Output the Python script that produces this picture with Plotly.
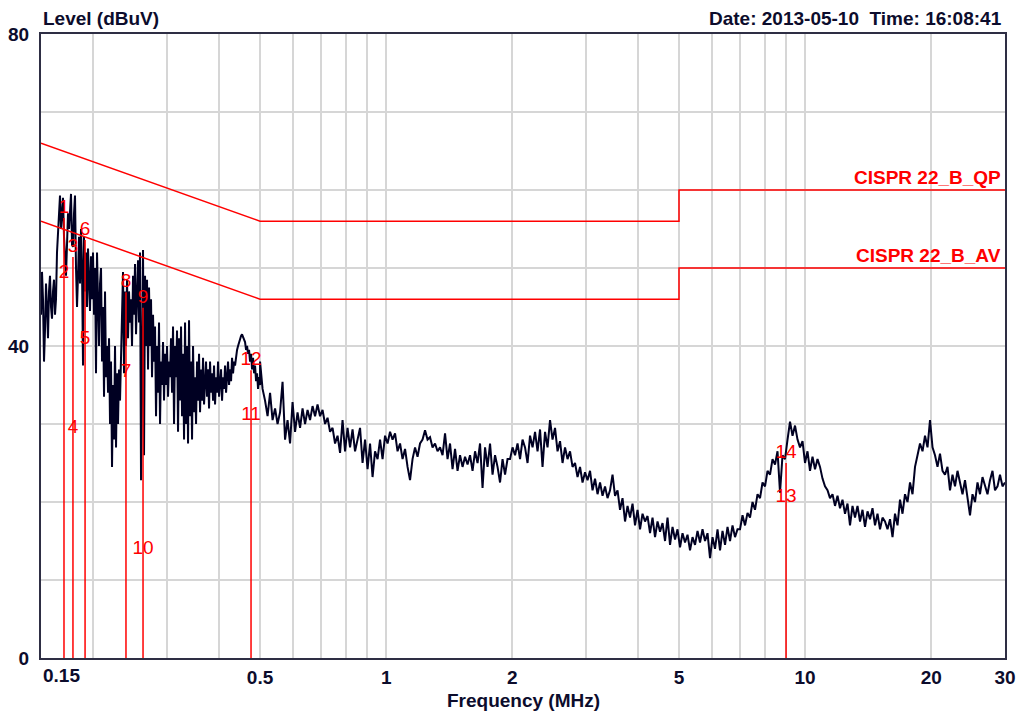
import numpy as np
import plotly.graph_objects as go

# ---------------- data ----------------
# measured trace, segment A: 0.15 - 0.5 MHz (log-spaced sweep points)
level_a = [
    44, 49.5, 46, 38, 42, 48, 45, 41, 47,
    49, 45, 43.5, 47, 48.5, 44, 46, 52,
    55, 58, 59.3, 55, 57, 59,
    54, 50, 49, 53, 57, 55,
    58, 59.5, 53, 52.7, 57, 59.3,
    50, 45, 49, 54,
    48, 55, 50, 37.5, 54, 47, 52,
    45, 52.5, 47, 44.5, 51.5, 46, 52, 44, 50,
    36.5, 52, 44, 40, 48,
    50, 38, 45, 33.5, 47, 36, 40, 34,
    41, 30, 38, 24.5, 35, 28, 40,
    27, 36.5, 30, 37, 33,
    38, 45, 49.5, 36.5, 47, 40,
    48.5, 41, 47, 43, 46, 40, 49,
    44, 50.5, 41.5, 48, 51, 43, 52,
    22.8, 45, 52.3, 26, 49, 40, 48.5,
    37, 47.5, 40, 46, 36, 44, 38, 42.5,
    31, 40, 34, 43, 30, 38, 35, 40.5, 33, 39,
    35, 40, 33.5, 38, 36, 41, 34, 42.5, 30, 40,
    36, 42, 29, 41, 33, 42.5, 31, 39, 28, 43, 30,
    40, 27.5, 43.3, 31, 38, 28, 40, 31.5, 36, 30,
    38, 33, 39, 31.5, 37, 33, 38.5, 32.5, 36,
    38, 33.5, 37, 32, 38, 34, 36.5, 33, 37.5, 32.5, 36, 34, 38, 33.5, 35,
    37, 33, 36, 34.5, 37.5, 34, 36, 38, 35, 37, 35.5, 38.5, 36.5, 38, 37.5, 39, 39.5,
    40, 40.5, 41, 41.3, 41.5, 41.2, 41, 40.5, 39.5, 40, 39, 39.5,
    38, 39, 37, 38.5, 36.5, 37.5, 35.5, 36.5, 34.5, 36, 35,
]
# measured trace, segment B: 0.5 - 30 MHz
level_b = [
    38, 34.5, 33, 31, 34, 30.5, 32, 30, 31.5, 35.4,
    28, 30.5, 27.5, 32.8, 29, 31.5, 29.5, 32, 30, 31.8,
    30.5, 32.3, 31, 32.5, 31, 31.8, 30, 30.8, 29, 29.5,
    27.5, 28.5, 26.3, 30.5, 26.5, 29.5, 27, 29.3, 26.5, 28,
    29.5, 25, 28, 24.2, 27.5, 23.2, 26.5, 25.5, 28, 25.5,
    28.5, 27.5, 29, 28, 28.8, 26.5, 27.5, 25.5, 26.8, 24.5,
    22.8, 25.5, 27, 25.8, 27.5, 28, 29.2, 28, 28.3, 27,
    27.5, 26.5, 27, 26, 28.8, 25.5, 27.5, 24.2, 26.8, 24,
    26, 24.5, 25.8, 24.8, 26, 24, 26.5, 25, 27.5, 21.8,
    27, 24.5, 27.5, 23.5, 26, 24.5, 22.5, 25.5, 23.5, 25.5,
    25.5, 27, 26, 27.5, 25.5, 28, 27, 25, 28.5, 27,
    29, 26.5, 29.3, 24.5, 29, 27, 30.5, 28, 29.5, 26.5,
    27.8, 25, 27, 25.5, 26.5, 24.5, 25, 23.2, 24.5, 22.5,
    23.8, 22.8, 24, 21.5, 23, 21, 22.5, 20.8, 22, 20.5,
    21.5, 23.5, 20.8, 21.5, 19, 20.5, 17.5, 19.5, 18, 19.8,
    17, 19, 16.5, 18.5, 17.5, 18.2, 16, 18, 15.5, 17.5,
    16.2, 17.3, 15, 18, 14.5, 16.8, 15.2, 16.5, 14.2, 16,
    14.8, 15.8, 13.8, 15.5, 14.5, 16.3, 14.8, 16.5, 15, 16,
    12.8, 15.5, 14, 16.5, 13.8, 16.3, 14.5, 16.8, 15, 17,
    15.5, 16.5, 16.5, 18.3, 17, 18.6, 18, 20, 19, 21,
    20.5, 22.5, 22, 24, 23.5, 25.5, 24.8, 26.5, 21.2, 26,
    25.5, 28, 30.3, 28.5, 29.8, 28, 27, 27.8, 25, 26.5,
    24, 25.8, 24.2, 25.5, 24.5, 23, 22, 21.5, 20.5, 21,
    19.5, 20.8, 19.2, 20.3, 18.5, 19.8, 17, 19.5, 18, 19.5,
    17.5, 19, 16.8, 18.8, 17.8, 19.2, 17, 18.5, 16.5, 18,
    17.5, 16.5, 17.8, 15.5, 18.5, 17, 20.3, 18.5, 21, 20,
    22.5, 21, 24.5, 26, 27.5, 26.5, 28.5, 27, 30.5, 27,
    26, 24.5, 26.2, 24, 23.5, 24.5, 21.5, 23.5, 22, 24,
    22.5, 21, 22.8, 20.5, 18.3, 21, 20, 22.5, 21, 23.2,
    22, 21, 22.8, 24, 21.5, 22, 23.5, 22, 22.5,
]
freq_a = np.geomspace(0.15, 0.5, len(level_a))
freq_b = np.geomspace(0.5, 30, len(level_b))

# limit lines (MHz, dBuV)
qp_freq = [0.15, 0.5, 5, 5, 30]
qp_level = [66, 56, 56, 60, 60]
av_freq = [0.15, 0.5, 5, 5, 30]
av_level = [56, 46, 46, 50, 50]

# markers
marker_label = ["1", "2", "3", "4", "5", "6", "7", "8", "9", "10", "11", "12", "13", "14"]
marker_freq = [0.1702, 0.1702, 0.1788, 0.1788, 0.1911, 0.1911, 0.2393, 0.2393,
               0.2628, 0.2628, 0.4758, 0.4758, 9.006, 9.006]
marker_level = [56.4, 48.1, 51.4, 28.2, 39.6, 53.6, 35.4, 46.9,
                44.9, 12.7, 29.9, 36.9, 19.4, 25.0]

x_tickvals = [0.2, 0.3, 0.4, 0.5, 0.6, 0.7, 0.8, 0.9, 1, 2, 3, 4, 5, 6, 7, 8, 9, 10, 20, 30]
x_ticktext = ["", "", "", "0.5", "", "", "", "", "1", "2", "", "", "5", "", "", "", "", "10", "20", "30"]
y_tickvals = [0, 10, 20, 30, 40, 50, 60, 70, 80]
y_ticktext = ["0", "", "", "", "40", "", "", "", "80"]

# ---------------- figure ----------------
TXT = "#0c0c2c"
RED = "#ff0000"
FONT = "Liberation Sans"

fig = go.Figure()

fig.add_trace(go.Scatter(
    x=np.concatenate([freq_a, freq_b]), y=level_a + level_b,
    mode="lines", line=dict(color="#000022", width=2), hoverinfo="skip"))

fig.add_trace(go.Scatter(x=qp_freq, y=qp_level, mode="lines",
                         line=dict(color=RED, width=1.5), hoverinfo="skip"))
fig.add_trace(go.Scatter(x=av_freq, y=av_level, mode="lines",
                         line=dict(color=RED, width=1.5), hoverinfo="skip"))

# marker vertical lines (one per frequency, up to the higher of the pair)
vx, vy = [], []
for i in range(0, len(marker_freq), 2):
    top = max(marker_level[i], marker_level[i + 1])
    vx += [marker_freq[i], marker_freq[i], None]
    vy += [0, top, None]
fig.add_trace(go.Scatter(x=vx, y=vy, mode="lines",
                         line=dict(color=RED, width=1.5), hoverinfo="skip"))

fig.add_trace(go.Scatter(
    x=marker_freq, y=marker_level, mode="text", text=marker_label,
    textposition="top center", cliponaxis=False,
    textfont=dict(family=FONT, size=19, color=RED), hoverinfo="skip"))

fig.update_layout(
    width=1027, height=713,
    margin=dict(l=41, r=22, t=34, b=55),
    paper_bgcolor="white", plot_bgcolor="white",
    showlegend=False,
    font=dict(family=FONT, color=TXT),
)

fig.update_xaxes(
    type="log", range=[np.log10(0.15), np.log10(30)],
    tickvals=x_tickvals, ticktext=x_ticktext,
    tickfont=dict(family=FONT, size=19, color=TXT, weight="bold"),
    showgrid=True, gridcolor="#d6d6d6", gridwidth=1.5,
    showline=True, linecolor="#2e2e44", linewidth=2, mirror=True,
    ticks="", zeroline=False, ticklabelstandoff=1, automargin=False,
)
fig.update_yaxes(
    range=[0, 80],
    tickvals=y_tickvals, ticktext=y_ticktext,
    tickfont=dict(family=FONT, size=19, color=TXT, weight="bold"),
    showgrid=True, gridcolor="#d6d6d6", gridwidth=1.5,
    showline=True, linecolor="#2e2e44", linewidth=2, mirror=True,
    ticks="", zeroline=False, ticklabelstandoff=6, automargin=False,
)

ann = [
    dict(text="<b>Level (dBuV)</b>", xref="paper", yref="paper", x=0, y=1,
         xanchor="left", yanchor="middle", yshift=16, showarrow=False,
         font=dict(family=FONT, size=19, color=TXT)),
    dict(text="<b>Date: 2013-05-10&nbsp; Time: 16:08:41</b>", xref="paper", yref="paper",
         x=1, y=1, xanchor="right", yanchor="middle", yshift=16, xshift=-1, showarrow=False,
         font=dict(family=FONT, size=19, color=TXT)),
    dict(text="<b>Frequency (MHz)</b>", xref="paper", yref="paper", x=0.5, y=0,
         xanchor="center", yanchor="middle", yshift=-42, showarrow=False,
         font=dict(family=FONT, size=19, color=TXT)),
    dict(text="<b>0.15</b>", xref="paper", yref="paper", x=0, y=0,
         xanchor="left", yanchor="middle", yshift=-17, showarrow=False,
         font=dict(family=FONT, size=19, color=TXT)),
    dict(text="<b>CISPR 22_B_QP</b>", x=np.log10(qp_freq[-1]), y=qp_level[-1],
         xanchor="right", yanchor="bottom", xshift=-2, showarrow=False,
         font=dict(family=FONT, size=19, color=RED)),
    dict(text="<b>CISPR 22_B_AV</b>", x=np.log10(av_freq[-1]), y=av_level[-1],
         xanchor="right", yanchor="bottom", xshift=-2, showarrow=False,
         font=dict(family=FONT, size=19, color=RED)),
]
fig.update_layout(annotations=ann)

fig.write_html(
    "out.html",
    config={"displayModeBar": False},
    post_script="document.body.style.margin='0px';document.body.style.overflow='hidden';",
)
